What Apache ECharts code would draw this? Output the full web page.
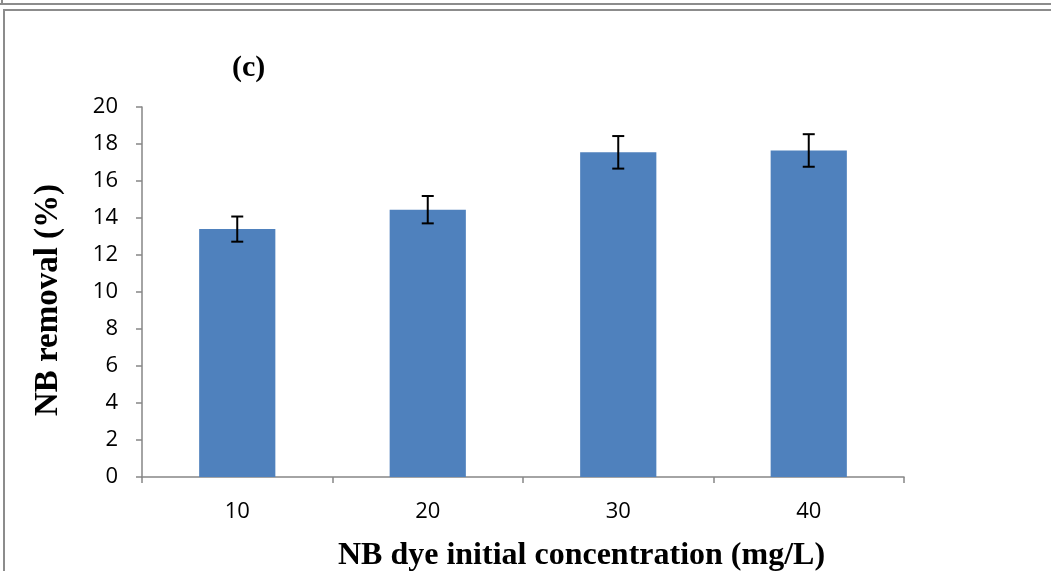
<!DOCTYPE html>
<html>
<head>
<meta charset="utf-8">
<script src="https://cdn.jsdelivr.net/npm/echarts@6/dist/echarts.min.js"></script>
<style>
html,body{margin:0;padding:0;background:#fff;}
#chart{width:1051px;height:571px;}
</style>
</head>
<body>
<div id="chart"></div>
<script>
const categories = ['10', '20', '30', '40'];
const removal = [13.4, 14.45, 17.55, 17.65];
const errors = [0.68, 0.74, 0.88, 0.88];
const yTicks = [0, 2, 4, 6, 8, 10, 12, 14, 16, 18, 20];

const errData = categories.map((c, i) => [i, removal[i] - errors[i], removal[i] + errors[i]]);

const chart = echarts.init(document.getElementById('chart'), null, {renderer: 'canvas'});
const axisGray = '#868686';
const serif = "'Liberation Serif', 'Times New Roman', serif";
const sans = "'Open Sans', 'Liberation Sans', sans-serif";

chart.setOption({
  animation: false,
  backgroundColor: '#fff',
  title: {
    text: '(c)',
    left: 227, top: 48,
    textStyle: {fontFamily: serif, fontWeight: 'bold', fontSize: 30, color: '#000'}
  },
  graphic: [
    {type: 'rect', shape: {x: 0, y: 3, width: 1051, height: 2}, style: {fill: '#8c8c8c'}, silent: true},
    {type: 'rect', shape: {x: 1, y: 0, width: 2, height: 5}, style: {fill: '#8c8c8c'}, silent: true},
    {type: 'rect', shape: {x: 3, y: 9, width: 1048, height: 2}, style: {fill: '#8c8c8c'}, silent: true},
    {type: 'rect', shape: {x: 3, y: 9, width: 2, height: 562}, style: {fill: '#8c8c8c'}, silent: true}
  ],
  grid: {left: 142, right: 147, top: 107, bottom: 94, containLabel: false, outerBoundsMode: 'none'},
  xAxis: {
    type: 'category',
    data: categories,
    name: 'NB dye initial concentration (mg/L)',
    nameLocation: 'middle',
    nameGap: 63,
    nameTextStyle: {fontFamily: serif, fontWeight: 'bold', fontSize: 32, color: '#000', padding: [0, 0, 0, 117]},
    axisLine: {lineStyle: {color: axisGray, width: 1.5}},
    axisTick: {show: true, alignWithLabel: false, length: 6, lineStyle: {color: axisGray, width: 1.5}},
    axisLabel: {fontFamily: sans, fontSize: 22, color: '#000', margin: 24},
    splitLine: {show: false}
  },
  yAxis: {
    type: 'value',
    min: 0, max: 20, interval: 2,
    name: 'NB removal (%)',
    nameLocation: 'middle',
    nameGap: 77,
    nameTextStyle: {fontFamily: serif, fontWeight: 'bold', fontSize: 33, color: '#000', padding: [0, 16, 0, 0]},
    axisLine: {show: true, lineStyle: {color: axisGray, width: 1.5}},
    axisTick: {show: true, length: 6, lineStyle: {color: axisGray, width: 1.5}},
    axisLabel: {fontFamily: sans, fontSize: 22, color: '#000', margin: 24,
      formatter: v => yTicks.includes(v) ? String(v) : ''},
    splitLine: {show: false}
  },
  series: [
    {
      type: 'bar',
      data: removal,
      barWidth: '40%',
      itemStyle: {color: '#4f81bd'}
    },
    {
      type: 'custom',
      data: errData,
      z: 10,
      renderItem: function (params, api) {
        const x = api.value(0);
        const lo = api.coord([x, api.value(1)]);
        const hi = api.coord([x, api.value(2)]);
        const hw = 6;
        const style = {stroke: '#000', lineWidth: 2};
        return {
          type: 'group',
          children: [
            {type: 'line', shape: {x1: hi[0], y1: hi[1], x2: lo[0], y2: lo[1]}, style},
            {type: 'line', shape: {x1: hi[0] - hw, y1: hi[1], x2: hi[0] + hw, y2: hi[1]}, style},
            {type: 'line', shape: {x1: lo[0] - hw, y1: lo[1], x2: lo[0] + hw, y2: lo[1]}, style}
          ]
        };
      }
    }
  ]
});
</script>
</body>
</html>
